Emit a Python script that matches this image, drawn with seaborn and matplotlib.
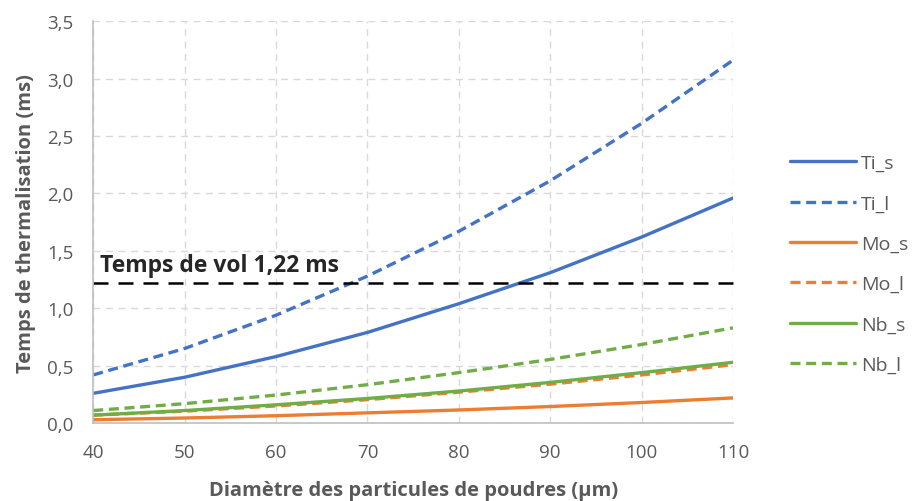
import pandas as pd
import seaborn as sns
import matplotlib.pyplot as plt

# diametre (um) and thermalisation time (ms)
diam = [40, 50, 60, 70, 80, 90, 100, 110]
ti_s = [0.26, 0.40, 0.58, 0.79, 1.04, 1.31, 1.62, 1.96]
ti_l = [0.42, 0.65, 0.94, 1.28, 1.67, 2.11, 2.61, 3.16]
mo_s = [0.03, 0.045, 0.065, 0.09, 0.115, 0.145, 0.18, 0.22]
mo_l = [0.07, 0.105, 0.15, 0.205, 0.27, 0.34, 0.42, 0.51]
nb_s = [0.07, 0.11, 0.16, 0.215, 0.28, 0.355, 0.44, 0.53]
nb_l = [0.11, 0.17, 0.245, 0.335, 0.44, 0.555, 0.685, 0.83]
temps_vol = 1.22

xticks = [40, 50, 60, 70, 80, 90, 100, 110]
yticks = [0.0, 0.5, 1.0, 1.5, 2.0, 2.5, 3.0, 3.5]
ytick_labels = ['0,0', '0,5', '1,0', '1,5', '2,0', '2,5', '3,0', '3,5']

series = {'Ti_s': ti_s, 'Ti_l': ti_l, 'Mo_s': mo_s, 'Mo_l': mo_l, 'Nb_s': nb_s, 'Nb_l': nb_l}
colors = {'Ti': '#4472C4', 'Mo': '#ED7D31', 'Nb': '#70AD47'}

sns.set_style('white')
plt.rcParams['font.family'] = ['Open Sans', 'DejaVu Sans']

fig = plt.figure(figsize=(9.14, 5.02), dpi=100)
ax = fig.add_axes([0.102, 0.155, 0.700, 0.801])

for name, vals in series.items():
    df = pd.DataFrame({'d': diam, 't': vals})
    ls = '-' if name.endswith('_s') else (0, (3, 1.7))
    sns.lineplot(data=df, x='d', y='t', ax=ax, color=colors[name[:2]],
                 linewidth=2.4, linestyle=ls, label=name)

ax.axhline(temps_vol, color='black', linewidth=1.8, linestyle=(0, (6, 4)), xmin=0, xmax=1.01, clip_on=False)
ax.text(40.7, temps_vol + 0.05, 'Temps de vol 1,22 ms', fontsize=16.5, fontweight='bold', va='bottom')

ax.set_xlim(40, 110)
ax.set_ylim(0, 3.5)
ax.set_xticks(xticks)
ax.set_yticks(yticks)
ax.set_yticklabels(ytick_labels)
ax.tick_params(axis='both', labelsize=13.5, colors='#595959', length=0)
ax.tick_params(axis='y', pad=14)
ax.tick_params(axis='x', pad=14)
ax.grid(True, color='#D9D9D9', linestyle=(0, (5, 4)), linewidth=1)

for s in ['top', 'right']:
    ax.spines[s].set_visible(False)
for s in ['left', 'bottom']:
    ax.spines[s].set_color('#BFBFBF')
    ax.spines[s].set_linewidth(1.2)

ax.set_xlabel('Diamètre des particules de poudres (µm)', fontsize=14.5, fontweight='bold', color='#595959', labelpad=14)
ax.set_ylabel('Temps de thermalisation (ms)', fontsize=14.5, fontweight='bold', color='#595959', labelpad=8)

leg = ax.legend(loc='center left', bbox_to_anchor=(1.089, 0.396), frameon=False, fontsize=14,
                labelspacing=1.15, handlelength=3.4, handletextpad=0.25, borderpad=0, borderaxespad=0)
for t in leg.get_texts():
    t.set_color('#595959')

fig.savefig('out.png', dpi=100)
